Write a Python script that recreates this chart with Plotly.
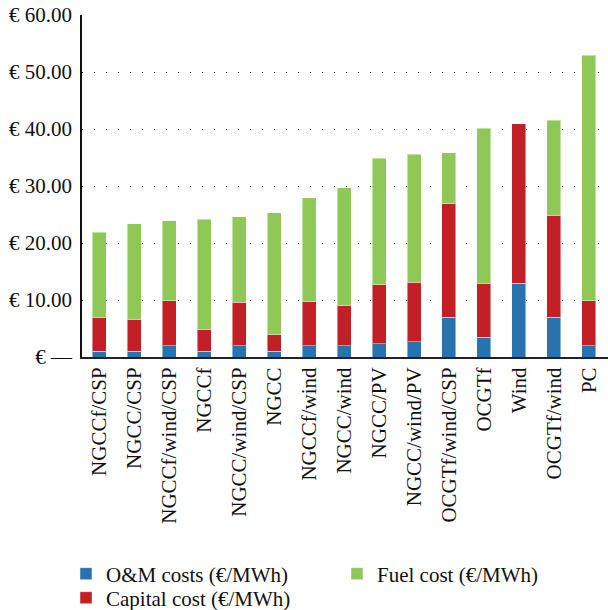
import plotly.graph_objects as go

# Generation options (levelised cost breakdown)
options = ["NGCCf/CSP", "NGCC/CSP", "NGCCf/wind/CSP", "NGCCf", "NGCC/wind/CSP",
           "NGCC", "NGCCf/wind", "NGCC/wind", "NGCC/PV", "NGCC/wind/PV",
           "OCGTf/wind/CSP", "OCGTf", "Wind", "OCGTf/wind", "PC"]

om_cost = [1.0, 1.0, 2.0, 1.0, 2.0, 1.0, 2.0, 2.0, 2.3, 2.7, 7.0, 3.5, 12.9, 7.0, 2.0]
capital_cost = [5.9, 5.6, 7.9, 3.9, 7.6, 2.9, 7.7, 7.0, 10.4, 10.4, 19.9, 9.4, 28.0, 17.9, 7.9]
fuel_cost = [15.0, 16.8, 14.0, 19.3, 15.0, 21.4, 18.2, 20.7, 22.2, 22.5, 8.9, 27.2, 0.0, 16.6, 43.0]

tick_vals = [0, 10, 20, 30, 40, 50, 60]
tick_text = ["€ —", "€ 10.00", "€ 20.00", "€ 30.00", "€ 40.00", "€ 50.00", "€ 60.00"]

SERIF = "Liberation Serif, Times New Roman, serif"
edge = dict(color="rgba(255,255,255,0.45)", width=1)

fig = go.Figure()
fig.add_trace(go.Bar(x=options, y=om_cost, name="O&M costs (€/MWh)",
                     marker=dict(color="#2872ad", line=edge), legendrank=1,
                     legend="legend"))
fig.add_trace(go.Bar(x=options, y=capital_cost, name="Capital cost (€/MWh)",
                     marker=dict(color="#c22026", line=edge),
                     legend="legend2"))
fig.add_trace(go.Bar(x=options, y=fuel_cost, name="Fuel cost (€/MWh)",
                     marker=dict(color="#8fc857", line=edge), legendrank=2,
                     legend="legend"))

legend_common = dict(
    orientation="h",
    x=-0.0304, xanchor="left",
    yanchor="middle",
    entrywidth=226, entrywidthmode="pixels",
    font=dict(size=21, family=SERIF),
    traceorder="normal",
    itemclick=False,
    bgcolor="rgba(0,0,0,0)",
)

fig.update_layout(
    barmode="stack",
    bargap=0.6,
    width=608, height=610,
    margin=dict(l=82, r=0, t=15, b=253, autoexpand=False),
    paper_bgcolor="white",
    plot_bgcolor="white",
    font=dict(family=SERIF, color="#111111"),
    showlegend=True,
    legend=dict(legend_common, y=-0.6345),
    legend2=dict(legend_common, y=-0.7047),
)

fig.update_xaxes(
    range=[-0.5, 14.55],
    tickangle=-90,
    tickfont=dict(size=21, family=SERIF, color="#111111"),
    showline=True, linecolor="#222222", linewidth=2,
    showgrid=False, ticks="",
    ticklabelstandoff=0,
    automargin=False,
)

fig.update_yaxes(
    range=[0, 60],
    tickvals=tick_vals, ticktext=tick_text,
    tickfont=dict(size=21, family=SERIF, color="#111111"),
    showline=True, linecolor="#111111", linewidth=1.5,
    showgrid=True, gridcolor="#111111", gridwidth=1.2,
    griddash="1px,11px",
    zeroline=False, ticks="",
    ticklabelstandoff=4,
    automargin=False,
)

fig.write_html("out.html")
